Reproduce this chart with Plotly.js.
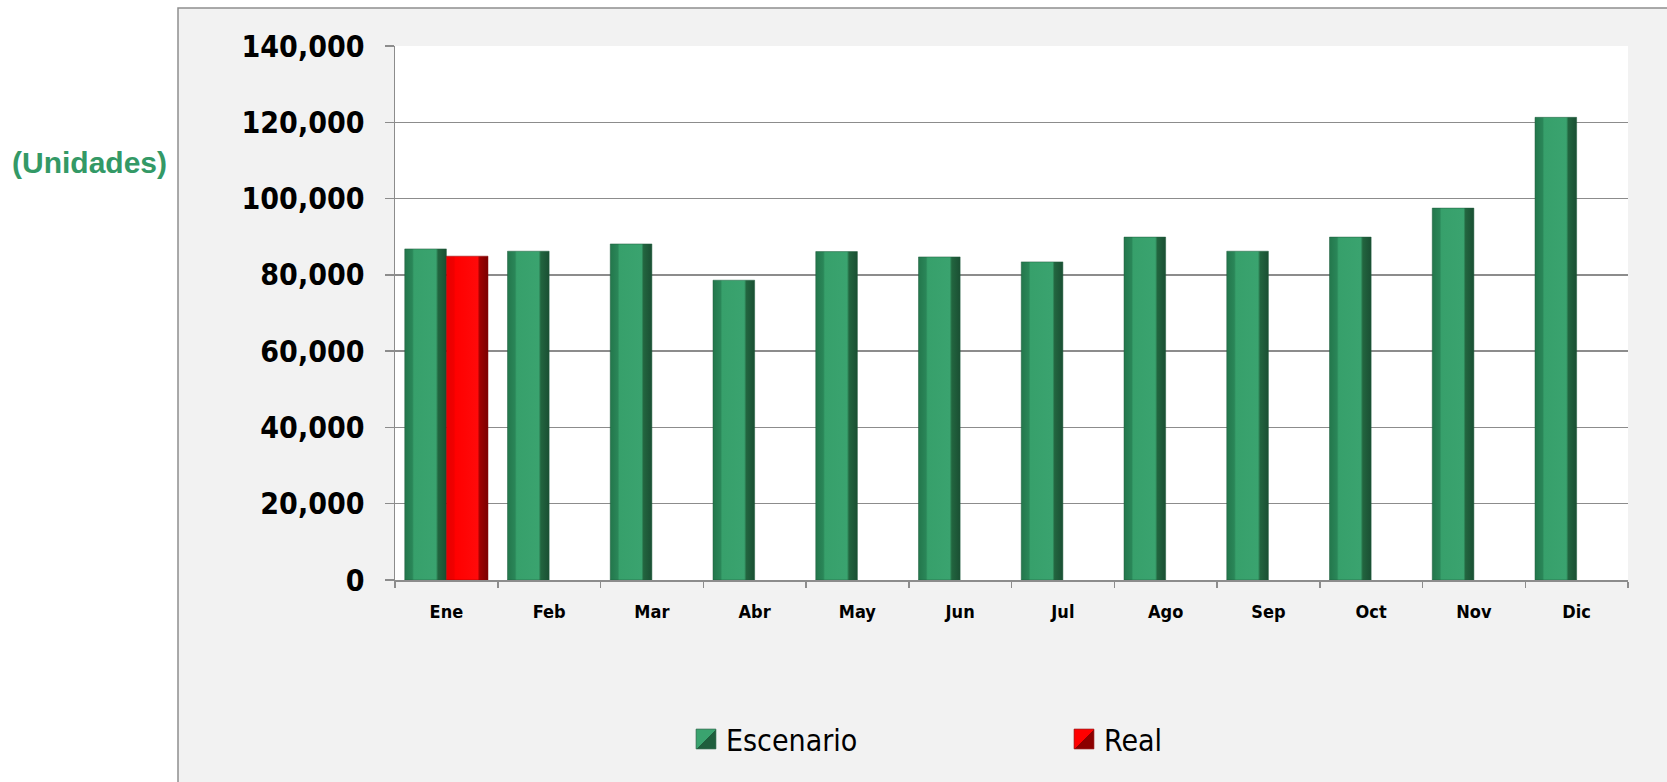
<!DOCTYPE html>
<html>
<head>
<meta charset="utf-8">
<script src="https://cdn.plot.ly/plotly-3.0.1.min.js"></script>
<style>
  html, body { margin: 0; padding: 0; background: #ffffff; }
  #chart { width: 1667px; height: 782px; }
</style>
</head>
<body>
<div id="chart"></div>
<script>
// ---- Data ----
const months = ["Ene", "Feb", "Mar", "Abr", "May", "Jun", "Jul", "Ago", "Sep", "Oct", "Nov", "Dic"];
const escenario = [86800, 86200, 88100, 78600, 86100, 84700, 83400, 89900, 86200, 89900, 97500, 121300];
const real = [84900, null, null, null, null, null, null, null, null, null, null, null];
const yTickVals = [0, 20000, 40000, 60000, 80000, 100000, 120000, 140000];
const seriesNames = ["Escenario", "Real"];
const unitLabel = "(Unidades)";

const narrow = '"DejaVu Sans Condensed", "Liberation Sans Narrow", "Arial Narrow", sans-serif';
const gridCol = '#8c8c8c';

const traces = [
  {
    type: 'bar', name: seriesNames[0], x: months, y: escenario,
    marker: { color: '#37a06b', line: { color: '#1d5a3b', width: 0.5 } },
    hoverinfo: 'x+y'
  },
  {
    type: 'bar', name: seriesNames[1], x: months, y: real,
    marker: { color: '#ff0000', line: { color: '#8b0000', width: 0.5 } },
    hoverinfo: 'x+y'
  }
];

const L = 395, R = 39, T = 46, B = 202;
const W = 1667, H = 782;
const pw = W - L - R, ph = H - T - B;
const px = v => (v - L) / pw;
const py = v => (H - B - v) / ph;

const layout = {
  width: W, height: H,
  margin: { l: L, r: R, t: T, b: B, pad: 0 },
  paper_bgcolor: '#ffffff',
  plot_bgcolor: '#ffffff',
  barmode: 'group',
  bargap: 0.19,
  bargroupgap: 0,
  showlegend: true,
  legend: {
    orientation: 'h',
    x: px(686), xanchor: 'left',
    y: py(739), yanchor: 'middle',
    bgcolor: 'rgba(0,0,0,0)',
    font: { family: narrow, size: 30, color: '#000000' },
    entrywidth: 333, entrywidthmode: 'pixels',
    traceorder: 'normal'
  },
  xaxis: {
    type: 'category',
    tickson: 'boundaries',
    ticks: 'outside', ticklen: 6, tickwidth: 1.5, tickcolor: gridCol,
    showline: true, linecolor: gridCol, linewidth: 1.5,
    showgrid: false,
    tickfont: { family: narrow, size: 18, color: '#000000', weight: 'bold' },
    ticklabelstandoff: 15,
    fixedrange: true
  },
  yaxis: {
    range: [0, 140000],
    tickvals: yTickVals,
    tickformat: ',d',
    ticks: 'outside', ticklen: 9, tickwidth: 1.5, tickcolor: gridCol,
    showline: true, linecolor: gridCol, linewidth: 1.5,
    showgrid: true, gridcolor: gridCol, gridwidth: 1.5,
    zeroline: false,
    tickfont: { family: narrow, size: 30, color: '#000000', weight: 'bold' },
    ticklabelstandoff: 14,
    fixedrange: true
  },
  shapes: [
    { type: 'rect', xref: 'paper', yref: 'paper', layer: 'below',
      x0: px(178), x1: px(1700), y0: py(8), y1: py(820),
      fillcolor: '#f2f2f2', line: { color: '#8f8f8f', width: 1.5 } },
    { type: 'rect', xref: 'paper', yref: 'paper', layer: 'below',
      x0: 0, x1: 1, y0: 0, y1: 1,
      fillcolor: '#ffffff', line: { width: 0 } }
  ],
  annotations: [
    { text: unitLabel, xref: 'paper', yref: 'paper',
      x: px(89), y: py(162), xanchor: 'center', yanchor: 'middle',
      showarrow: false,
      font: { family: '"Liberation Sans", Arial, sans-serif', size: 30, color: '#339966', weight: 'bold' } }
  ]
};

Plotly.newPlot('chart', traces, layout, { displayModeBar: false, staticPlot: true }).then(function (gd) {
  const svg = gd.querySelector('svg.main-svg');
  const ns = 'http://www.w3.org/2000/svg';
  let defs = svg.querySelector('defs');
  if (!defs) { defs = document.createElementNS(ns, 'defs'); svg.insertBefore(defs, svg.firstChild); }
  function grad(id, stops, x2, y2) {
    const g = document.createElementNS(ns, 'linearGradient');
    g.setAttribute('id', id);
    g.setAttribute('x1', '0'); g.setAttribute('y1', '0');
    g.setAttribute('x2', x2); g.setAttribute('y2', y2);
    stops.forEach(function (s) {
      const st = document.createElementNS(ns, 'stop');
      st.setAttribute('offset', s[0]);
      st.setAttribute('stop-color', s[1]);
      g.appendChild(st);
    });
    defs.appendChild(g);
  }
  grad('gGreen', [['0', '#23774c'], ['0.18', '#2a8658'], ['0.22', '#37a06b'], ['0.75', '#3aa36f'], ['0.8', '#22653f'], ['1', '#1a4f33']], '1', '0');
  grad('gRed', [['0', '#e80000'], ['0.18', '#f00000'], ['0.22', '#ff0000'], ['0.75', '#ff0a0a'], ['0.8', '#a00000'], ['1', '#7a0000']], '1', '0');
  grad('lGreen', [['0', '#3aa36f'], ['0.5', '#3aa36f'], ['0.5', '#1f5e3d'], ['1', '#1f5e3d']], '1', '1');
  grad('lRed', [['0', '#ff0000'], ['0.5', '#ff0000'], ['0.5', '#8b0000'], ['1', '#8b0000']], '1', '1');
  gd.querySelectorAll('.barlayer .trace').forEach(function (tr, i) {
    tr.querySelectorAll('path').forEach(function (p) {
      p.style.fill = i === 0 ? 'url(#gGreen)' : 'url(#gRed)';
    });
  });
  gd.querySelectorAll('.legend .traces').forEach(function (tr, i) {
    tr.querySelectorAll('.legendpoints path').forEach(function (p) {
      const old = p.getAttribute('transform') || '';
      p.setAttribute('transform', old + ' scale(1.65)');
      p.style.fill = i === 0 ? 'url(#lGreen)' : 'url(#lRed)';
      p.style.strokeWidth = '0.4px';
    });
  });
});
</script>
</body>
</html>
